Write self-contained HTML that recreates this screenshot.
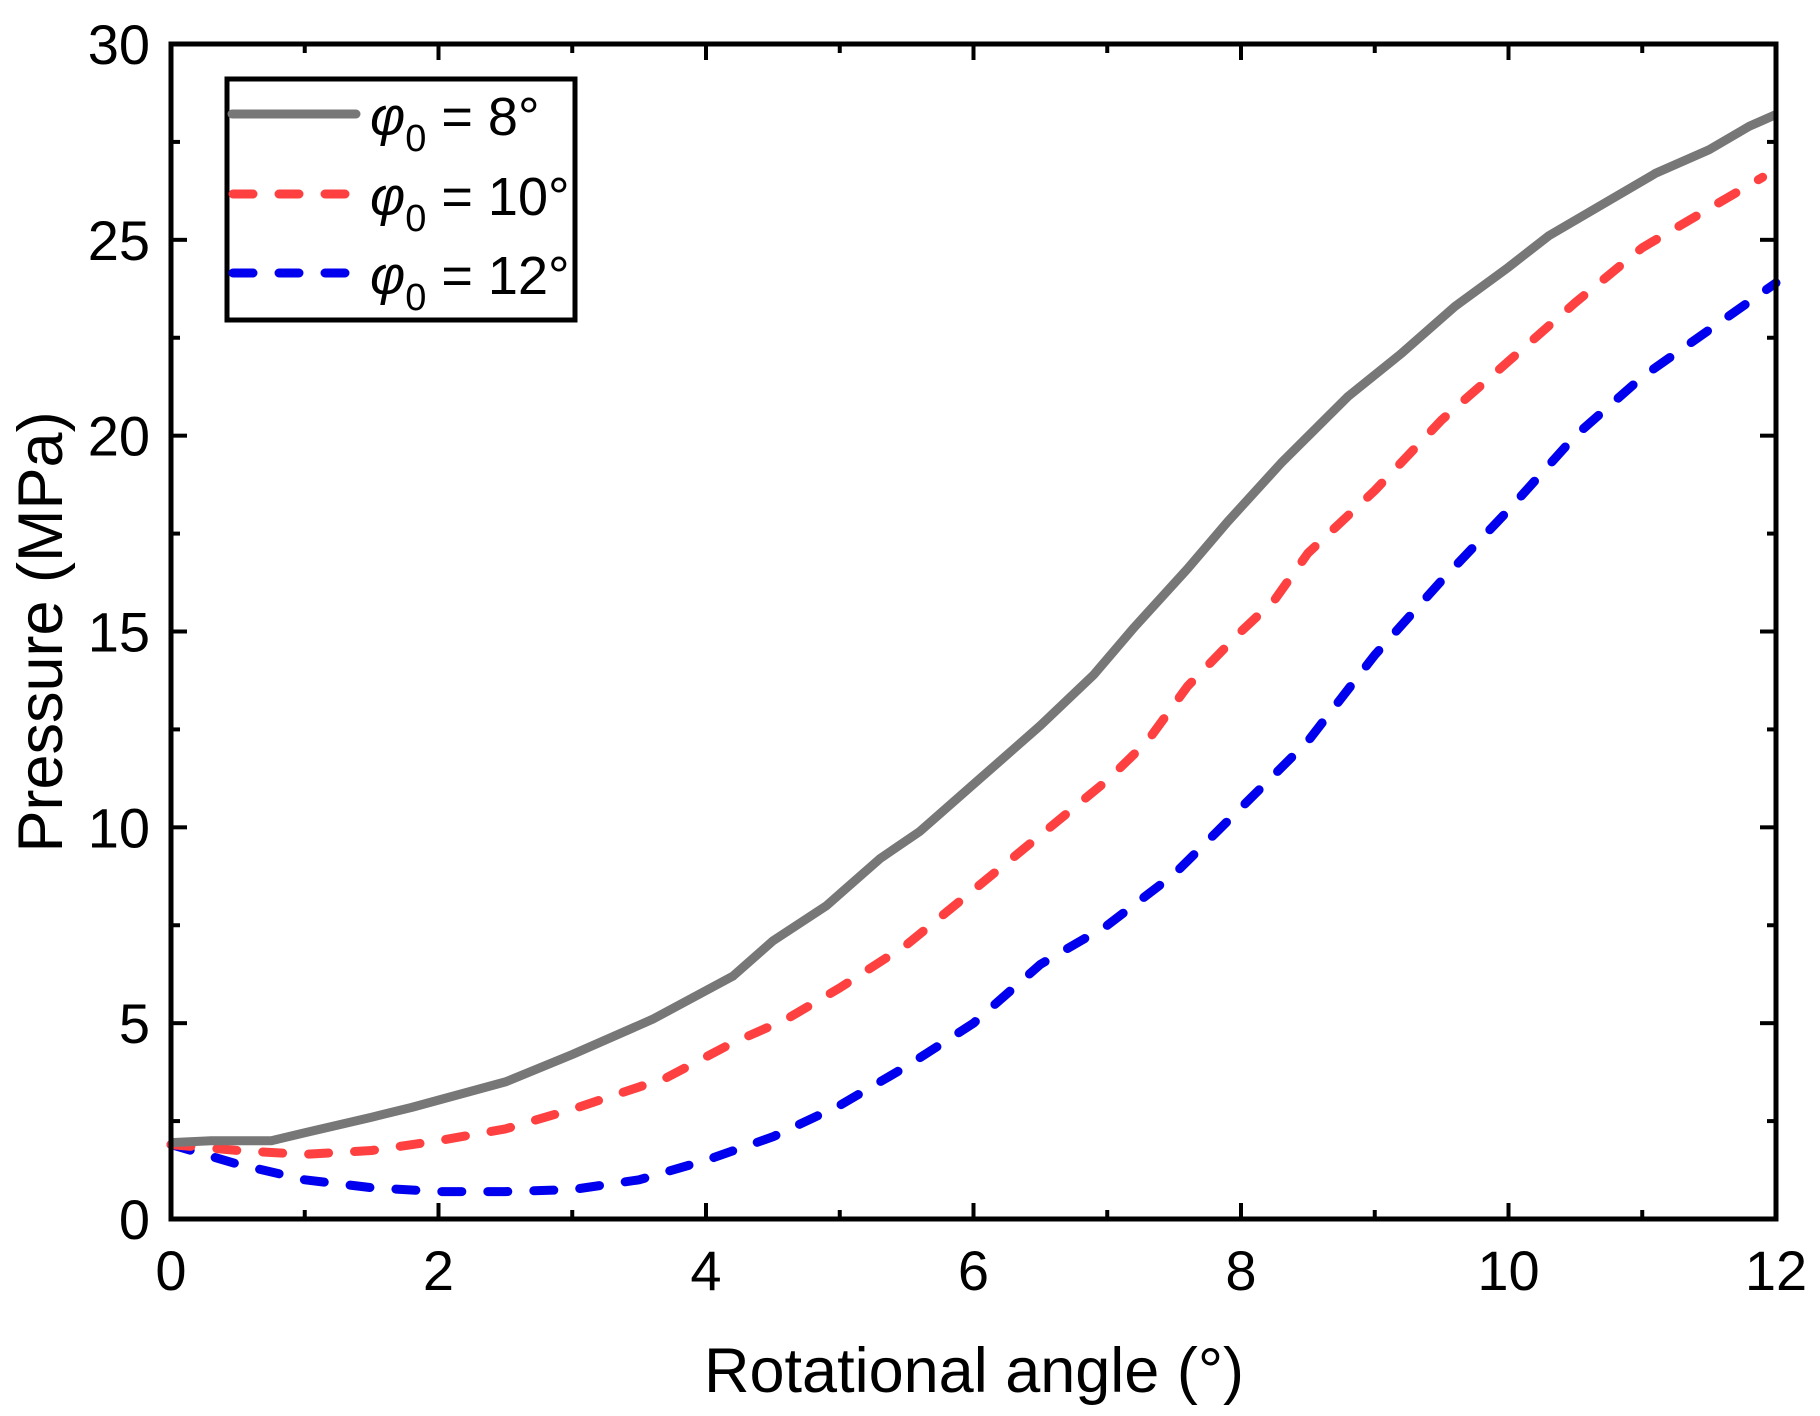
<!DOCTYPE html>
<html><head><meta charset="utf-8"><style>
html,body{margin:0;padding:0;background:#fff}
svg{display:block}
text{font-family:"Liberation Sans",Arial,sans-serif;fill:#000}
</style></head><body>
<svg id="chart" width="1820" height="1416" viewBox="0 0 1820 1416" xmlns="http://www.w3.org/2000/svg">
<g id="marks"></g>
<g id="axes"></g>
<g>
<rect x="227" y="79" width="348" height="241" fill="#fff" stroke="#000" stroke-width="5"/>
<line x1="232" y1="114" x2="356" y2="114" stroke="#777" stroke-width="9" stroke-linecap="round"/>
<line x1="233" y1="194" x2="350" y2="194" stroke="#ff4040" stroke-width="9" stroke-linecap="round" stroke-dasharray="20 26"/>
<line x1="233" y1="273" x2="350" y2="273" stroke="#0000ee" stroke-width="9" stroke-linecap="round" stroke-dasharray="20 26"/>
<text x="370" y="135" font-size="54"><tspan font-style="italic">φ</tspan><tspan font-size="38" dy="16">0</tspan><tspan dy="-16"> = 8°</tspan></text>
<text x="370" y="215" font-size="54"><tspan font-style="italic">φ</tspan><tspan font-size="38" dy="16">0</tspan><tspan dy="-16"> = 10°</tspan></text>
<text x="370" y="294" font-size="54"><tspan font-style="italic">φ</tspan><tspan font-size="38" dy="16">0</tspan><tspan dy="-16"> = 12°</tspan></text>
</g>
<text x="974" y="1392" font-size="63" text-anchor="middle">Rotational angle (°)</text>
<text transform="translate(62,632) rotate(-90)" font-size="63" text-anchor="middle">Pressure (MPa)</text>
</svg>
<script>
const xTicks=[0,2,4,6,8,10,12];
const yTicks=[0,5,10,15,20,25,30];
const x8=[0,0.3,0.75,1,1.5,1.8,2.5,3,3.6,4.2,4.5,4.9,5.3,5.6,6,6.5,6.9,7.2,7.6,7.9,8.3,8.8,9.2,9.6,10,10.3,10.6,11.1,11.5,11.8,12];
const y8=[1.95,2.0,2.0,2.2,2.6,2.85,3.5,4.2,5.1,6.2,7.1,8.0,9.2,9.9,11.1,12.6,13.9,15.1,16.6,17.8,19.3,21.0,22.1,23.3,24.3,25.1,25.7,26.7,27.3,27.9,28.2];
const x10=[0,0.5,1,1.5,2,2.5,3,3.7,4.2,4.6,5,5.5,6,6.5,7,7.3,7.6,8,8.25,8.5,9,9.5,10,10.5,11,11.5,11.9];
const y10=[1.9,1.75,1.65,1.75,2.0,2.3,2.8,3.6,4.5,5.1,5.9,7.0,8.4,9.8,11.2,12.2,13.6,15.0,15.8,17.0,18.6,20.4,21.9,23.4,24.8,25.8,26.6];
const x12=[0,0.5,1,1.5,2,2.5,3,3.5,4,4.5,5,5.5,6,6.5,7,7.5,8,8.5,9,9.5,10,10.5,11,11.5,12];
const y12=[1.9,1.4,1.0,0.8,0.7,0.7,0.75,1.0,1.5,2.1,2.9,3.9,5.0,6.5,7.5,8.8,10.5,12.2,14.4,16.3,18.1,20.0,21.5,22.7,23.9];
const L=171,R=1776,T=44,B=1219;
const sx=v=>L+(v/12)*(R-L);
const sy=v=>B-(v/30)*(B-T);
const NS="http://www.w3.org/2000/svg";
const marks=document.getElementById('marks'),axes=document.getElementById('axes');
function mk(tag,attrs,parent){const e=document.createElementNS(NS,tag);for(const k in attrs)e.setAttribute(k,attrs[k]);parent.appendChild(e);return e;}
function series(xs,ys,color,dash,name){
  const p=mk('path',{d:xs.map((x,i)=>(i?'L':'M')+sx(x).toFixed(1)+','+sy(ys[i]).toFixed(1)).join(''),fill:'none',stroke:color,'stroke-width':9,'stroke-linejoin':'round','stroke-linecap':dash?'round':'butt'},marks);
  if(dash)p.setAttribute('stroke-dasharray',dash);
  
  
}
series(x12,y12,'#0000ee','20 26','series-phi-12');
series(x10,y10,'#ff4040','20 26','series-phi-10');
series(x8,y8,'#777777',null,'series-phi-8');
mk('rect',{x:L,y:T,width:R-L,height:B-T,fill:'none',stroke:'#000','stroke-width':5},axes);
for(let i=0;i<xTicks.length;i++){
  const v=xTicks[i],x=sx(v);
  mk('line',{x1:x,y1:B,x2:x,y2:B-16,stroke:'#000','stroke-width':4},axes);
  mk('line',{x1:x,y1:T,x2:x,y2:T+16,stroke:'#000','stroke-width':4},axes);
  if(i<xTicks.length-1){const m=sx(v+1);
    mk('line',{x1:m,y1:B,x2:m,y2:B-9,stroke:'#000','stroke-width':4},axes);
    mk('line',{x1:m,y1:T,x2:m,y2:T+9,stroke:'#000','stroke-width':4},axes);}
  const t=mk('text',{x:x,y:B+71,'font-size':56,'text-anchor':'middle'},axes);t.textContent=v;
  
  
}
for(let i=0;i<yTicks.length;i++){
  const v=yTicks[i],y=sy(v);
  mk('line',{x1:L,y1:y,x2:L+16,y2:y,stroke:'#000','stroke-width':4},axes);
  mk('line',{x1:R,y1:y,x2:R-16,y2:y,stroke:'#000','stroke-width':4},axes);
  if(i<yTicks.length-1){const m=sy(v+2.5);
    mk('line',{x1:L,y1:m,x2:L+9,y2:m,stroke:'#000','stroke-width':4},axes);
    mk('line',{x1:R,y1:m,x2:R-9,y2:m,stroke:'#000','stroke-width':4},axes);}
  const t=mk('text',{x:150,y:y+20,'font-size':56,'text-anchor':'end'},axes);t.textContent=v;
  
  
}
</script>
</body></html>
